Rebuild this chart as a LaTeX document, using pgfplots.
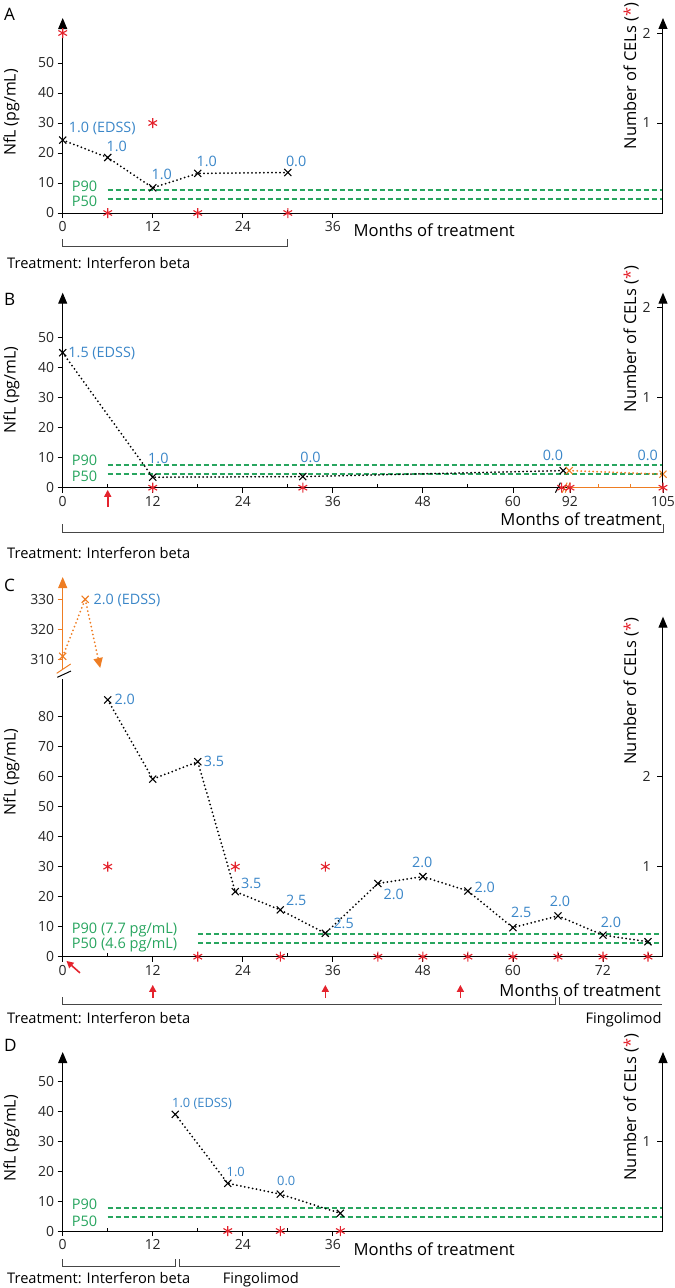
\documentclass[border=0pt]{standalone}
\usepackage{fontspec}
\setmainfont{Open Sans}
\usepackage{pgfplots}
\pgfplotsset{compat=1.18}
\usetikzlibrary{arrows.meta}
\definecolor{edss}{RGB}{58,134,200}
\definecolor{pgreen}{RGB}{40,165,95}
\definecolor{cred}{RGB}{228,35,45}
\definecolor{corange}{RGB}{238,125,35}
\definecolor{brk}{RGB}{70,70,70}
\newcommand\fs[1]{\fontsize{#1}{#1}\selectfont}
\tikzset{
  ed/.style={font=\fs{14.4}, text=edss, inner sep=0pt},
  edd/.style={font=\fs{12.9}, text=edss, inner sep=0pt},
  pl/.style={font=\fs{14.6}, text=pgreen, inner sep=0pt, anchor=base west},
  brack/.style={brk, line width=1bp},
}
\pgfplotsset{
  nflbase/.style={scale only axis, width=600.3bp, xmin=0, xmax=80, ymin=0, clip=false, anchor=south west,
    axis x line=bottom, axis y line=left, axis line style={line width=1bp, black},
    x axis line style={-}, y axis line style={-{Triangle[width=9bp,length=11bp]}},
    tick style={black, line width=0.8bp}, tick align=outside, major tick length=5bp, minor tick length=3.5bp,
    minor tick style={yshift=3.5bp},
    ticklabel style={font=\fs{14}, text=black!85},
    /pgf/number format/assume math mode=true},
  celbase/.style={scale only axis, width=600.3bp, xmin=0, xmax=80, ymin=0, clip=false, anchor=south west,
    axis x line=none, xtick=\empty, axis y line=right, axis line style={line width=1bp, black},
    y axis line style={-{Triangle[width=9bp,length=11bp]}},
    tick style={black, line width=0.8bp}, tick align=inside, major tick length=6bp,
    yticklabel style={font=\fs{14}, text=black!85, anchor=east, xshift=-9bp},
    /pgf/number format/assume math mode=true},
  nfl/.style={black, line width=2bp, dash pattern=on 0bp off 4bp, line cap=round, mark=x, mark size=5bp,
    mark options={solid, line width=1.1bp, line cap=butt}},
  onfl/.style={nfl, corange},
  pline/.style={pgreen, line width=1.8bp, dash pattern=on 5bp off 3bp},
  cel/.style={cred, only marks, mark=asterisk, mark size=5bp, mark options={line width=1.1bp}},
  relapse/.style={cred, line width=1.6bp, -{Triangle[width=7bp,length=7bp]}, quiver={u=\thisrow{u}, v=\thisrow{v}}},
}
\begin{document}
\begin{tikzpicture}
\useasboundingbox (0,0) rectangle (675bp,-1288bp);
%================ Panel A
\begin{axis}[nflbase, at={(62.7bp,-213bp)}, height=195bp, ymax=65,
  ytick={0,10,...,50}, xtick={0,12,24,36}, minor xtick={6,18,30}]
\addplot[pline] coordinates {(6,7.7) (80,7.7)};
\addplot[pline] coordinates {(6,4.6) (80,4.6)};
\addplot[nfl] coordinates {(0,24.3) (6,18.5) (12,8.4) (18,13.2) (30,13.5)};
\node[ed, anchor=base west, xshift=6bp, yshift=8bp] at (axis cs:0,24.3) {1.0 (EDSS)};
\node[ed, anchor=base west, xshift=-1.3bp, yshift=6bp] at (axis cs:6,18.5) {1.0};
\node[ed, anchor=base west, xshift=-1.3bp, yshift=8bp] at (axis cs:12,8.4) {1.0};
\node[ed, anchor=base west, xshift=-1.3bp, yshift=6.5bp] at (axis cs:18,13.2) {1.0};
\node[ed, anchor=base west, xshift=-2bp, yshift=5.6bp] at (axis cs:30,13.5) {0.0};
\end{axis}
\begin{axis}[celbase, at={(62.7bp,-213bp)}, height=195bp, ymax=2.1667, ytick={1,2}]
\addplot[cel] coordinates {(0,2) (6,0) (12,1) (18,0) (30,0)};
\end{axis}
\node[font=\fs{17.2}, anchor=base west, inner sep=0pt] at (4bp,-20.7bp) {A};
\node[font=\fs{16}, rotate=90, anchor=base, inner sep=0pt] at (15.7bp,-112.5bp) {NfL (pg/mL)};
\node[font=\fs{16.5}, rotate=90, anchor=base, inner sep=0pt] at (636bp,-76bp) {Number of CELs (\textcolor{cred}{*})};
\node[font=\fs{16.7}, anchor=base west, inner sep=0pt] at (353.3bp,-236bp) {Months of treatment};
\node[pl] at (71.7bp,-191.7bp) {P90};
\node[pl] at (71.7bp,-206.7bp) {P50};
\draw[brack] (62.7bp,-239bp) -- (62.7bp,-246.7bp) -- (287bp,-246.7bp) -- (287bp,-239bp);
\node[font=\fs{14.7}, anchor=base west, inner sep=0pt] at (7bp,-268bp) {Treatment: Interferon beta};
%================ Panel B
\begin{axis}[nflbase, at={(62.7bp,-487.7bp)}, height=195bp, ymax=65,
  ytick={0,10,...,50}, xtick={0,12,24,36,48,60,67.6,80}, xticklabels={0,12,24,36,48,60,92,105},
  minor xtick={6,18,30,42,54}]
\addplot[pline] coordinates {(6,7.7) (80,7.7)};
\addplot[pline] coordinates {(6,4.6) (80,4.6)};
\addplot[nfl] coordinates {(0,45) (12,3.5) (32,3.7) (66.7,5.7)};
\addplot[onfl] coordinates {(67.5,5.7) (80,4.5)};
\addplot[relapse] table {
x y u v
6 -6.5 0 5.8
};
\draw[black, line width=1bp] (axis cs:66,0) ++(-2.5bp,-5bp) -- ++(5bp,10bp);
\draw[corange, line width=1bp] (axis cs:66.9,0) ++(-2.5bp,-5bp) -- ++(5bp,10bp);
\draw[corange, line width=1bp] (axis cs:67.3,0) ++(-2.5bp,-5bp) -- ++(5bp,10bp);
\draw[corange, line width=0.8bp] (axis cs:71.4,0) -- ([yshift=3.5bp]axis cs:71.4,0);
\draw[corange, line width=0.8bp] (axis cs:75.6,0) -- ([yshift=3.5bp]axis cs:75.6,0);
\node[ed, anchor=base west, xshift=5.6bp, yshift=-4.5bp] at (axis cs:0,45) {1.5 (EDSS)};
\node[ed, anchor=base west, xshift=-4.7bp, yshift=14bp] at (axis cs:12,3.5) {1.0};
\node[ed, anchor=base west, xshift=-2.7bp, yshift=14bp] at (axis cs:32,3.7) {0.0};
\node[ed, anchor=base east, xshift=0bp, yshift=10.6bp] at (axis cs:66.7,5.7) {0.0};
\node[ed, anchor=base east, xshift=-5bp, yshift=14.2bp] at (axis cs:80,4.5) {0.0};
\end{axis}
\begin{axis}[celbase, at={(62.7bp,-487.7bp)}, height=195bp, ymax=2.1667, ytick={1,2}]
\addplot[corange, line width=1.2bp] coordinates {(67.6,0) (80,0)};
\addplot[cel] coordinates {(12,0) (32,0) (66.5,0) (67.6,0) (80,0)};
\end{axis}
\node[font=\fs{17.2}, anchor=base west, inner sep=0pt] at (4bp,-305bp) {B};
\node[font=\fs{16}, rotate=90, anchor=base, inner sep=0pt] at (15.7bp,-390bp) {NfL (pg/mL)};
\node[font=\fs{16.5}, rotate=90, anchor=base, inner sep=0pt] at (636bp,-339bp) {Number of CELs (\textcolor{cred}{*})};
\node[font=\fs{16.7}, anchor=base east, inner sep=0pt] at (662bp,-525bp) {Months of treatment};
\node[pl] at (71.7bp,-465bp) {P90};
\node[pl] at (71.7bp,-481.7bp) {P50};
\draw[brack] (62.7bp,-524bp) -- (62.7bp,-532bp) -- (663bp,-532bp) -- (663bp,-524bp);
\node[font=\fs{14.7}, anchor=base west, inner sep=0pt] at (7bp,-558.3bp) {Treatment: Interferon beta};
%================ Panel C (upper, broken axis)
\begin{axis}[scale only axis, width=600.3bp, height=92bp, at={(62.7bp,-669bp)}, anchor=south west,
  xmin=0, xmax=80, ymin=306.77, ymax=337.43, clip=false,
  axis x line=none, xtick=\empty, axis y line=left, axis line style={line width=1bp, corange},
  y axis line style={-{Triangle[width=9bp,length=11bp]}},
  tick style={corange, line width=0.8bp}, tick align=outside, major tick length=5bp, ytick={310,320,330},
  yticklabel style={font=\fs{14}, text=black!85}, /pgf/number format/assume math mode=true]
\addplot[onfl] coordinates {(0,311) (3,330)};
\addplot[corange, line width=2bp, dash pattern=on 0bp off 4bp, line cap=round,
  -{Triangle[width=9bp,length=10bp]}] coordinates {(3,330) (5,307.1)};
\node[ed, anchor=base west, xshift=8.3bp, yshift=-5.1bp] at (axis cs:3,330) {2.0 (EDSS)};
\end{axis}
\draw[corange, line width=1bp] (56.7bp,-673.3bp) -- (70.7bp,-664bp);
\draw[black, line width=1bp] (57.3bp,-677.3bp) -- (71bp,-671bp);
%================ Panel C (lower)
\begin{axis}[nflbase, at={(62.7bp,-956.7bp)}, height=277.8bp, ymax=92.6, y axis line style={-},
  ytick={0,10,...,80}, xtick={0,12,...,72}, minor xtick={6,18,...,78}]
\addplot[pline] coordinates {(18,7.7) (80,7.7)};
\addplot[pline] coordinates {(18,4.6) (80,4.6)};
\addplot[nfl] coordinates {(6,85.6) (12,59.2) (18,65) (23,21.7) (29,15.6) (35,7.8) (42,24.4) (48,26.7)
  (54,21.9) (60,9.7) (66,13.6) (72,7.2) (78,5.0)};
\addplot[relapse] table {
x y u v
2.3 -5.4 -1.8 4.0
12 -13.8 0 4.4
35 -13.8 0 4.4
53 -13.8 0 4.4
};
\node[ed, anchor=base west, xshift=6.7bp, yshift=-4.4bp] at (axis cs:6,85.6) {2.0};
\node[ed, anchor=base west, xshift=6bp, yshift=-5.1bp] at (axis cs:18,65) {3.5};
\node[ed, anchor=base west, xshift=5.7bp, yshift=3.3bp] at (axis cs:23,21.7) {3.5};
\node[ed, anchor=base west, xshift=5.7bp, yshift=4.2bp] at (axis cs:29,15.6) {2.5};
\node[ed, anchor=base west, xshift=8bp, yshift=5.2bp] at (axis cs:35,7.8) {2.5};
\node[ed, anchor=base west, xshift=5.6bp, yshift=-15.8bp] at (axis cs:42,24.4) {2.0};
\node[ed, anchor=base, xshift=-0.7bp, yshift=8.9bp] at (axis cs:48,26.7) {2.0};
\node[ed, anchor=base west, xshift=6.6bp, yshift=-1.4bp] at (axis cs:54,21.9) {2.0};
\node[ed, anchor=base west, xshift=-2bp, yshift=9.9bp] at (axis cs:60,9.7) {2.5};
\node[ed, anchor=base, xshift=2bp, yshift=9.2bp] at (axis cs:66,13.6) {2.0};
\node[ed, anchor=base west, xshift=-2.4bp, yshift=7.2bp] at (axis cs:72,7.2) {2.0};
\end{axis}
\begin{axis}[celbase, at={(62.7bp,-956.7bp)}, height=340bp, ymax=3.777, ytick={1,2}]
\addplot[cel] coordinates {(6,1) (18,0) (23,1) (29,0) (35,1) (42,0) (48,0) (54,0) (60,0) (66,0) (72,0) (78,0)};
\end{axis}
\node[font=\fs{17.2}, anchor=base west, inner sep=0pt] at (4bp,-591.7bp) {C};
\node[font=\fs{16}, rotate=90, anchor=base, inner sep=0pt] at (15.7bp,-772bp) {NfL (pg/mL)};
\node[font=\fs{16.5}, rotate=90, anchor=base, inner sep=0pt] at (636bp,-691bp) {Number of CELs (\textcolor{cred}{*})};
\node[font=\fs{16.7}, anchor=base east, inner sep=0pt] at (661bp,-996bp) {Months of treatment};
\node[pl] at (71.7bp,-933.7bp) {P90 (7.7 pg/mL)};
\node[pl] at (71.7bp,-948.7bp) {P50 (4.6 pg/mL)};
\draw[brack] (62.7bp,-997bp) -- (62.7bp,-1004.3bp) -- (555bp,-1004.3bp) -- (555bp,-997bp);
\draw[brack] (559.5bp,-997bp) -- (559.5bp,-1004.3bp) -- (662bp,-1004.3bp);
\node[font=\fs{14.7}, anchor=base west, inner sep=0pt] at (7bp,-1023.3bp) {Treatment: Interferon beta};
\node[font=\fs{14.7}, anchor=base east, inner sep=0pt] at (661.7bp,-1023.3bp) {Fingolimod};
%================ Panel D
\begin{axis}[nflbase, at={(62.7bp,-1231bp)}, height=179bp, ymax=59.7,
  ytick={0,10,...,50}, xtick={0,12,24,36}, minor xtick={6,18,30}]
\addplot[pline] coordinates {(6,7.7) (80,7.7)};
\addplot[pline] coordinates {(6,4.6) (80,4.6)};
\addplot[nfl] coordinates {(15,38.9) (22,15.9) (29,12.3) (37,5.9)};
\node[edd, anchor=base west, xshift=-3.3bp, yshift=6.4bp] at (axis cs:15,38.9) {1.0 (EDSS)};
\node[edd, anchor=base west, xshift=-1.3bp, yshift=7bp] at (axis cs:22,15.9) {1.0};
\node[edd, anchor=base west, xshift=-3.3bp, yshift=8.7bp] at (axis cs:29,12.3) {0.0};
\end{axis}
\begin{axis}[celbase, at={(62.7bp,-1231bp)}, height=179bp, ymax=1.99, ytick={1}]
\addplot[cel] coordinates {(22,0) (29,0) (37,0)};
\end{axis}
\node[font=\fs{17.2}, anchor=base west, inner sep=0pt] at (4bp,-1051.7bp) {D};
\node[font=\fs{16}, rotate=90, anchor=base, inner sep=0pt] at (15.7bp,-1138.5bp) {NfL (pg/mL)};
\node[font=\fs{16.5}, rotate=90, anchor=base, inner sep=0pt] at (636bp,-1107bp) {Number of CELs (\textcolor{cred}{*})};
\node[font=\fs{16.7}, anchor=base west, inner sep=0pt] at (353.3bp,-1255bp) {Months of treatment};
\node[pl] at (71.7bp,-1209.3bp) {P90};
\node[pl] at (71.7bp,-1226bp) {P50};
\draw[brack] (62.7bp,-1259bp) -- (62.7bp,-1266.3bp) -- (175bp,-1266.3bp) -- (175bp,-1259bp);
\draw[brack] (179.3bp,-1259bp) -- (179.3bp,-1266.3bp) -- (340bp,-1266.3bp);
\node[font=\fs{14.7}, anchor=base west, inner sep=0pt] at (7bp,-1283.3bp) {Treatment: Interferon beta};
\node[font=\fs{14.7}, anchor=base west, inner sep=0pt] at (222.7bp,-1283.3bp) {Fingolimod};
\end{tikzpicture}
\end{document}
